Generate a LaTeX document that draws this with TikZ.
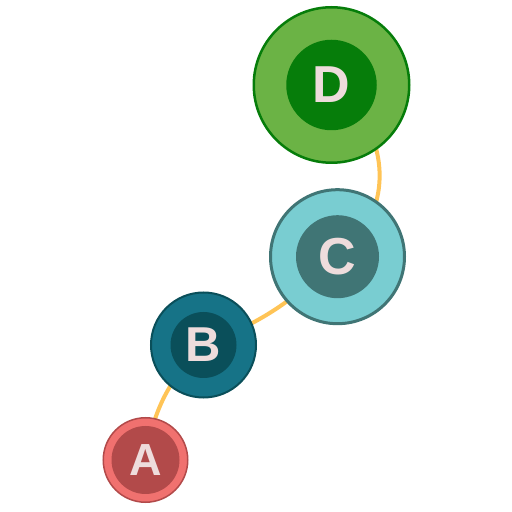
\documentclass[tikz,border=0pt]{standalone}
\usepackage{fontspec}
\setmainfont{Liberation Sans}
\usetikzlibrary{backgrounds}

\definecolor{redlight}{HTML}{F0716F}
\definecolor{reddark}{HTML}{B24A4A}
\definecolor{tealmid}{HTML}{167387}
\definecolor{tealdark}{HTML}{0A4F5A}
\definecolor{cyanlight}{HTML}{79CDD1}
\definecolor{cyandark}{HTML}{407575}
\definecolor{greenlight}{HTML}{6BB345}
\definecolor{greendark}{HTML}{067D0A}
\definecolor{labelpink}{HTML}{EEDCDC}
\definecolor{linkorange}{HTML}{FFC456}

\begin{document}
\begin{tikzpicture}[
    x=1pt, y=1pt,
    ring/.style={circle, draw, inner sep=0pt, outer sep=0pt},
    core/.style={circle, inner sep=0pt, text=labelpink, font=\bfseries},
    link/.style={draw=linkorange, line width=4pt},
  ]
  \useasboundingbox (0,0) rectangle (512,512);

  % Vertices
  \node[ring, fill=redlight, draw=reddark, line width=1.5pt, minimum size=84.5] (A) at (145.5, 52) {};
  \node[core, fill=reddark, minimum size=68, font=\bfseries\fontsize{45}{50}\selectfont] (a) at (A) {A};

  \node[ring, fill=tealmid, draw=tealdark, line width=2pt, minimum size=105] (B) at (203.5, 167) {};
  \node[core, fill=tealdark, minimum size=66, font=\bfseries\fontsize{49}{54}\selectfont] (b) at (B) {B};

  \node[ring, fill=cyanlight, draw=cyandark, line width=3pt, minimum size=134] (C) at (337.5, 255.3) {};
  \node[core, fill=cyandark, minimum size=83, font=\bfseries\fontsize{52}{57}\selectfont] (c) at (C) {C};

  \node[ring, fill=greenlight, draw=greendark, line width=2.5pt, minimum size=155.5] (D) at (331.5, 427) {};
  \node[core, fill=greendark, minimum size=90.5, font=\bfseries\fontsize{52}{57}\selectfont] (d) at (D) {D};

  % Links, behind the vertices
  \begin{scope}[on background layer]
    \draw[link] (A.center) to[bend left=18] (B.center);
    \draw[link] (B.center) to[bend right=12] (C.center);
    \draw[link] (C.center) .. controls +(60,43) and +(60,-43) .. (D.center);
  \end{scope}
\end{tikzpicture}
\end{document}
